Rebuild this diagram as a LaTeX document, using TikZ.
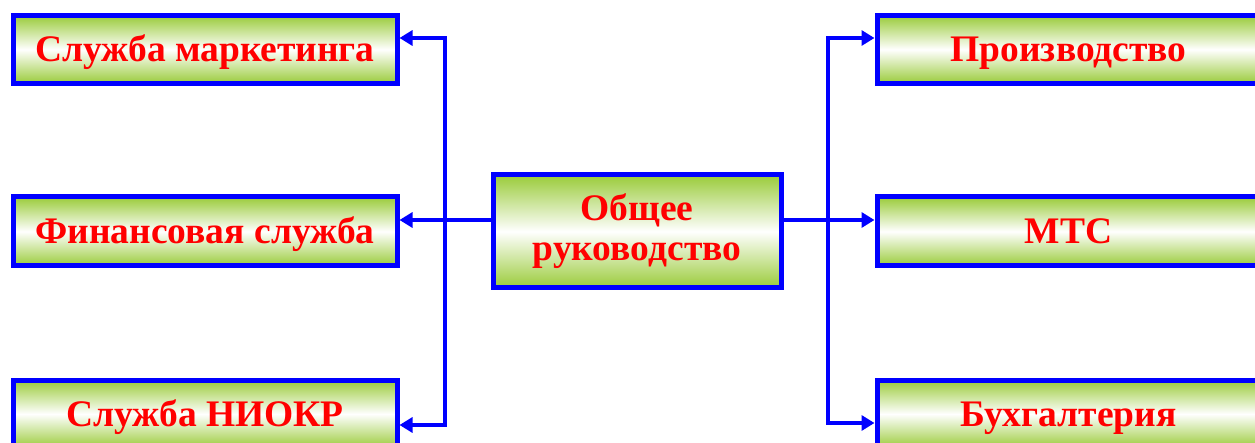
\documentclass[tikz,border=0pt]{standalone}
\usepackage{fontspec}
\setmainfont{Liberation Serif}
\usetikzlibrary{arrows.meta}
\definecolor{boxgreen}{HTML}{9ACB3A}
\definecolor{boxblue}{HTML}{0000FF}
\definecolor{txtred}{HTML}{FF0000}
\tikzset{
  unitbox/.style={draw=boxblue, line width=5pt, top color=boxgreen, bottom color=boxgreen, middle color=white,
    text=txtred, font=\fontsize{37.5}{40}\selectfont\bfseries, align=center, inner sep=0pt},
  sidebox/.style={unitbox, minimum width=384pt, minimum height=68pt, text height=28pt, text depth=3pt},
  conn/.style={draw=boxblue, line width=4pt, line join=miter},
  arr/.style={-{Triangle[length=13pt,width=15pt]}}
}
\begin{document}
\begin{tikzpicture}[x=1pt,y=-1pt]
\useasboundingbox (0,0) rectangle (1255,443);
\clip (0,0) rectangle (1255,443);
\node[sidebox] (lt) at (205,49.5) {Служба маркетинга};
\node[sidebox, minimum height=69pt] (lm) at (205,231.5) {Финансовая служба};
\node[sidebox] (lb) at (205,414) {Служба НИОКР};
\node[unitbox, minimum width=288pt, minimum height=113pt] (c) at (637,231.5) {Общее\\руководство};
\node[sidebox, minimum width=383pt] (rt) at (1068.5,49.5) {Производство};
\node[sidebox, minimum width=383pt, minimum height=69pt] (rm) at (1068.5,231.5) {МТС};
\node[sidebox, minimum width=383pt] (rb) at (1068.5,414) {Бухгалтерия};
\coordinate (jL) at (445,220);
\coordinate (jR) at (828,220);
\coordinate (lTop) at (445,38);
\coordinate (lBot) at (445,425);
\coordinate (rTop) at (828,38);
\coordinate (rBot) at (828,423);
\draw[conn] (c.west |- jL) -- (jL);
\draw[conn] (c.east |- jR) -- (jR);
\draw[conn,arr] (jL) -- (lm.east |- jL);
\draw[conn,arr] (jL) -- (lTop) -- (lt.east |- lTop);
\draw[conn,arr] (jL) -- (lBot) -- (lb.east |- lBot);
\draw[conn,arr] (jR) -- (rm.west |- jR);
\draw[conn,arr] (jR) -- (rTop) -- (rt.west |- rTop);
\draw[conn,arr] (jR) -- (rBot) -- (rb.west |- rBot);
\end{tikzpicture}
\end{document}
